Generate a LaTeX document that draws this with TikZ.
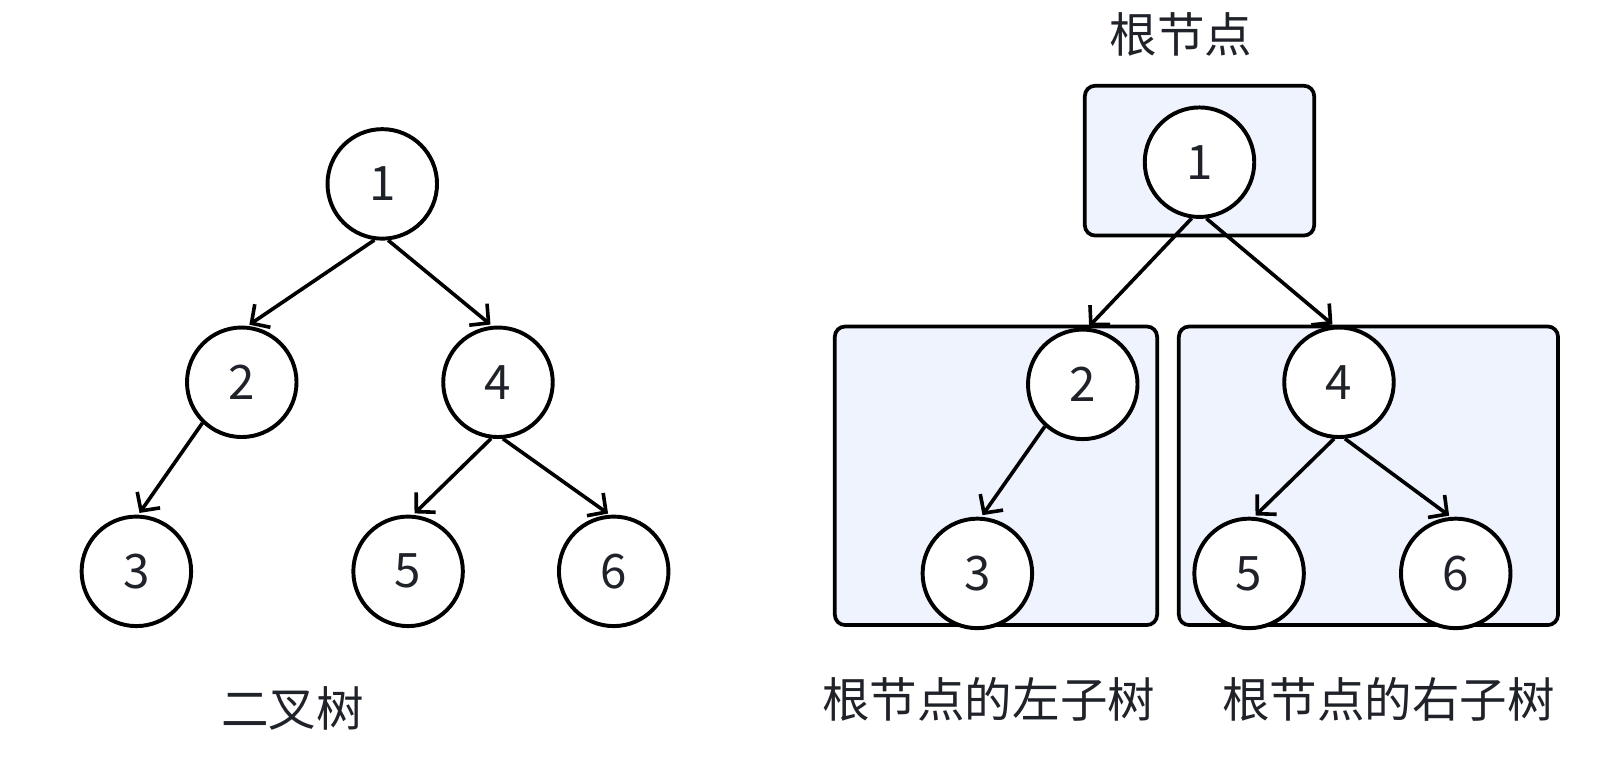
\documentclass[tikz,border=0pt]{standalone}
\usepackage{fontspec}
\setmainfont{Noto Sans CJK SC}
\usetikzlibrary{arrows.meta}
\definecolor{txt}{RGB}{31,35,41}
\definecolor{boxfill}{RGB}{238,243,253}
\tikzset{
  tnode/.style={circle,draw=black,line width=3.8pt,fill=white,minimum size=106pt,inner sep=0pt,text=txt,font=\fontsize{46}{52}\selectfont},
  arr/.style={line width=3.5pt,-{Straight Barb[length=13pt,width=27pt,line width=3.5pt]},shorten >=2pt},
  subbox/.style={draw=black,line width=3.6pt,fill=boxfill,rounded corners=10pt},
  lbl/.style={text=txt,font=\fontsize{46}{52}\selectfont,inner sep=0pt}
}
\begin{document}
\begin{tikzpicture}[x=1pt,y=-1pt]
\useasboundingbox[fill=white] (0,0) rectangle (1568,738);
% left tree
\node[tnode] (a1) at (370,178) {1};
\node[tnode] (a2) at (234,370) {2};
\node[tnode] (a4) at (482,370) {4};
\node[tnode] (a3) at (132,553) {3};
\node[tnode] (a5) at (395,553) {5};
\node[tnode] (a6) at (594,553) {6};
\draw[arr] (a1.262) -- (a2.84);
\draw[arr] (a1.276) -- (a4.96);
\draw[arr] (a2.226) -- (a3.88);
\draw[arr] (a4.263) -- (a5.85);
\draw[arr] (a4.275) -- (a6.94);
\node[lbl] (lt) at (283,686) {二叉树};
% right
\draw[subbox] (1050,83) rectangle (1272,228);
\draw[subbox] (808,316) rectangle (1120,605);
\draw[subbox] (1141,316) rectangle (1508,605);
\node[tnode] (b1) at (1161,157) {1};
\node[tnode] (b2) at (1048,372) {2};
\node[tnode] (b3) at (946,555) {3};
\node[tnode] (b4) at (1296,370) {4};
\node[tnode] (b5) at (1209,555) {5};
\node[tnode] (b6) at (1409,555) {6};
\draw[arr] (b1.262) -- (b2.85);
\draw[arr] (b1.277) -- (b4.95);
\draw[arr] (b2.228) -- (b3.86);
\draw[arr] (b4.265) -- (b5.85);
\draw[arr] (b4.276) -- (b6.95);
\node[lbl] (rt) at (1143,33) {根节点};
\node[lbl] (ll) at (957,677) {根节点的左子树};
\node[lbl] (rl) at (1344,677) {根节点的右子树};
\end{tikzpicture}
\end{document}
